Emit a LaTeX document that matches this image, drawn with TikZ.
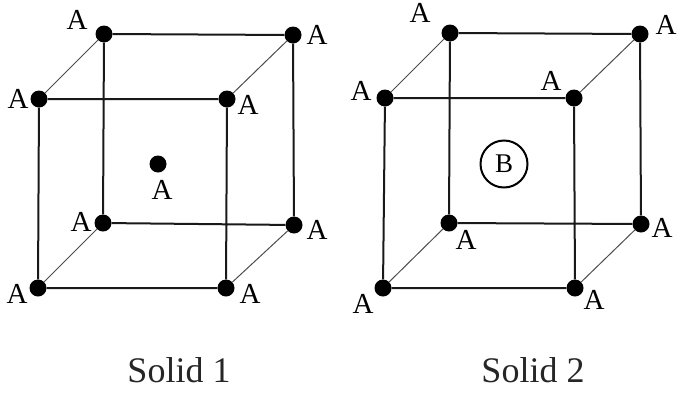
\documentclass[tikz,border=0pt]{standalone}
\usepackage{fontspec}
\setmainfont{Liberation Serif}
\tikzset{
 dotn/.style={circle,fill=black,inner sep=0pt,minimum size=17pt},
 lab/.style={inner sep=0pt,font=\fontsize{29}{29}\selectfont},
 edge/.style={line width=2pt,black!90},
 thin edge/.style={line width=1pt,black!70},
 capt/.style={inner sep=0pt,font=\fontsize{36}{36}\selectfont,black!85}
}
\begin{document}
\begin{tikzpicture}[x=1pt,y=-1pt]
\useasboundingbox (0,0) rectangle (677,394);
% Solid 1
\foreach \n/\x/\y in {a/104/34,b/293/35,c/39/99,d/227/99,e/103/223,f/294/225,g/38/288,h/226/288,i/158/164}
  \node[dotn] (\n) at (\x,\y) {};
\draw[edge] (a)--(b) (a)--(e) (b)--(f) (e)--(f) (c)--(d) (c)--(g) (d)--(h) (g)--(h);
\draw[thin edge] (a)--(c) (b)--(d) (e)--(g) (f)--(h);
\foreach \n/\x/\y/\t in {la/77/20/A,lb/317/35/A,lc/18/99/A,ld/248/105/A,le/81/222/A,lf/317/230/A,lg/17/294/A,lh/250/294/A,li/162/190/A}
  \node[lab] (\n) at (\x,\y) {\t};
\node[capt] (s1) at (179,370) {Solid 1};
% Solid 2
\foreach \n/\x/\y in {A/450/33,B/640/34,C/385/98,D/574/98,E/449/223,F/641/224,G/383/288,H/575/288}
  \node[dotn] (\n) at (\x,\y) {};
\draw[edge] (A)--(B) (A)--(E) (B)--(F) (E)--(F) (C)--(D) (C)--(G) (D)--(H) (G)--(H);
\draw[thin edge] (A)--(C) (B)--(D) (E)--(G) (F)--(H);
\node[circle,draw=black,line width=2pt,minimum size=47pt,inner sep=0pt,font=\fontsize{27}{27}\selectfont] (bb) at (504,164) {B};
\foreach \n/\x/\y/\t in {lA/420/13/A,lB/666/25/A,lC/361/91/A,lD/551/81/A,lE/466/240/A,lF/662/228/A,lG/363/304/A,lH/594/300/A}
  \node[lab] (\n) at (\x,\y) {\t};
\node[capt] (s2) at (533,370) {Solid 2};
\end{tikzpicture}
\end{document}
